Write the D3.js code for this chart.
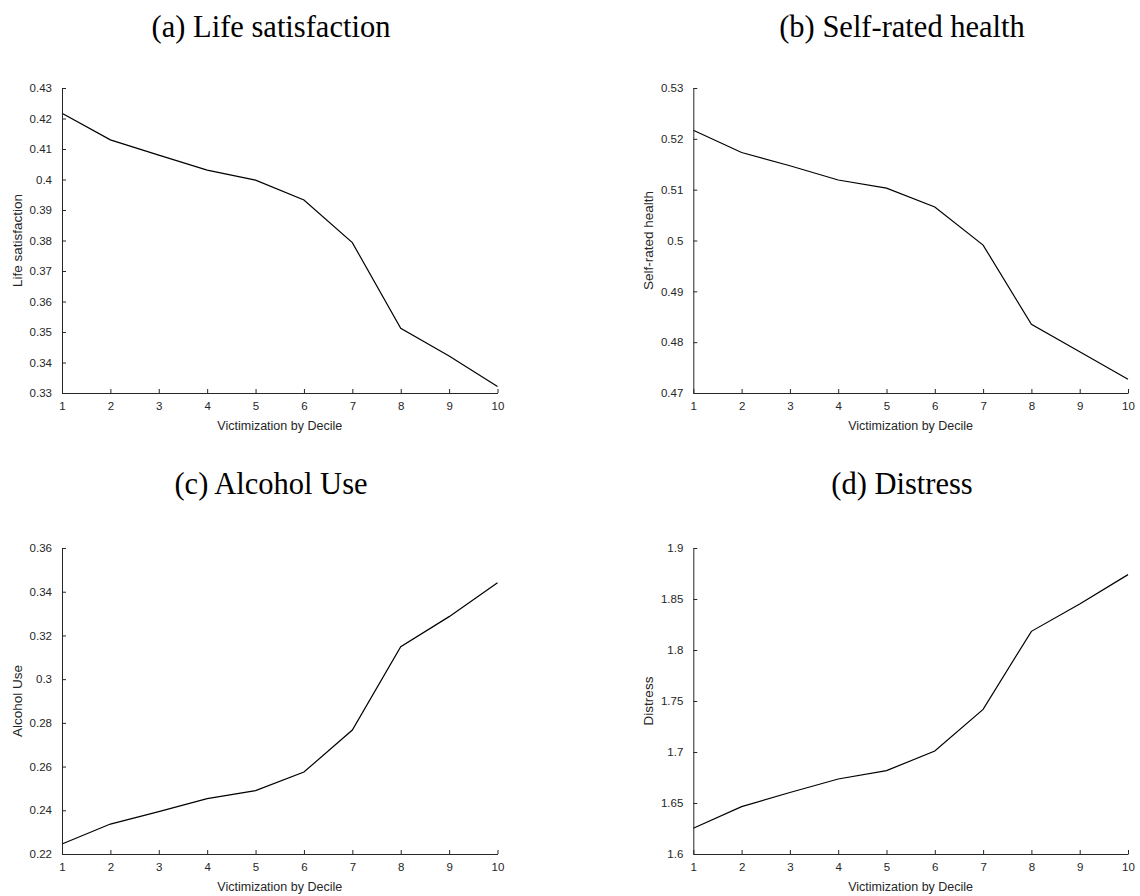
<!DOCTYPE html>
<html>
<head>
<meta charset="utf-8">
<script src="https://cdn.jsdelivr.net/npm/d3@7"></script>
<style>
  body { margin: 0; background: #fff; }
  svg { display: block; }
</style>
</head>
<body>
<svg id="chart" width="1140" height="896"></svg>
<script>
// values
const deciles = [1, 2, 3, 4, 5, 6, 7, 8, 9, 10]

const lifeSatisfaction = [0.4217, 0.4130, 0.4080, 0.4031, 0.3998, 0.3933, 0.3793, 0.3512, 0.3421, 0.3321]
const selfRatedHealth = [0.5217, 0.5173, 0.5147, 0.5119, 0.5103, 0.5066, 0.4991, 0.4835, 0.4781, 0.4727]
const alcoholUse = [0.2246, 0.2337, 0.2394, 0.2453, 0.2490, 0.2575, 0.2767, 0.3148, 0.3286, 0.3441]
const distress = [1.6252, 1.6464, 1.6603, 1.6735, 1.6817, 1.7010, 1.7418, 1.8183, 1.8450, 1.8739]

const titles = ['(a) Life satisfaction', '(b) Self-rated health', '(c) Alcohol Use', '(d) Distress']
const yLabels = ['Life satisfaction', 'Self-rated health', 'Alcohol Use', 'Distress']
const xLabel = 'Victimization by Decile'

const ticksA = [0.33, 0.34, 0.35, 0.36, 0.37, 0.38, 0.39, 0.40, 0.41, 0.42, 0.43]
const ticksB = [0.47, 0.48, 0.49, 0.50, 0.51, 0.52, 0.53]
const ticksC = [0.22, 0.24, 0.26, 0.28, 0.30, 0.32, 0.34, 0.36]
const ticksD = [1.60, 1.65, 1.70, 1.75, 1.80, 1.85, 1.90]

const series = [lifeSatisfaction, selfRatedHealth, alcoholUse, distress]
const yTicks = [ticksA, ticksB, ticksC, ticksD]

// panel boxes (left, right, top, bottom) and title centres
const boxes = [
    { x0: 62, x1: 497.5, y0: 88, y1: 393, tx: 271, ty: 37 },
    { x0: 693.3, x1: 1128, y0: 88, y1: 393, tx: 902, ty: 37 },
    { x0: 62, x1: 497.5, y0: 548, y1: 854, tx: 271, ty: 494 },
    { x0: 693.3, x1: 1128, y0: 548, y1: 854, tx: 902, ty: 494 }
]

const ink = '#262626'
const svg = d3.select('#chart')
const fmt = d => String(+d.toFixed(4))

boxes.forEach(function (b, i) {
    const vals = series[i]
    const ticks = yTicks[i]

    const x = d3.scaleLinear().domain([1, 10]).range([b.x0, b.x1])
    const y = d3.scaleLinear().domain(d3.extent(ticks)).range([b.y1, b.y0])

    const g = svg.append('g')

    svg.append('text')
        .attr('x', b.tx)
        .attr('y', b.ty)
        .attr('text-anchor', 'middle')
        .attr('font-family', '"Liberation Serif", "DejaVu Serif", serif')
        .attr('font-size', 30.5)
        .attr('fill', '#000')
        .text(titles[i])

    const line = d3.line()
        .x((d, k) => x(deciles[k]))
        .y(d => y(d))

    g.append('path')
        .datum(vals)
        .attr('d', line)
        .attr('fill', 'none')
        .attr('stroke', '#000')
        .attr('stroke-width', 1.2)

    const xAxis = g.append('g')
        .attr('transform', `translate(0,${b.y1})`)
        .call(d3.axisBottom(x).tickValues(deciles).tickFormat(d3.format('d'))
            .tickSizeInner(-4).tickSizeOuter(0).tickPadding(8.5))

    const yAxis = g.append('g')
        .attr('transform', `translate(${b.x0},0)`)
        .call(d3.axisLeft(y).tickValues(ticks).tickFormat(fmt)
            .tickSizeInner(-4).tickSizeOuter(0).tickPadding(10))

    ;[xAxis, yAxis].forEach(function (ax) {
        ax.select('.domain').attr('stroke', ink).attr('stroke-width', 1)
        ax.selectAll('.tick line').attr('stroke', ink)
        ax.selectAll('.tick text')
            .attr('fill', ink)
            .attr('font-family', '"Liberation Sans", Arial, sans-serif')
            .attr('font-size', 11.5)
    })

    g.append('text')
        .attr('x', (b.x0 + b.x1) / 2)
        .attr('y', b.y1 + 37)
        .attr('text-anchor', 'middle')
        .attr('font-family', '"Liberation Sans", Arial, sans-serif')
        .attr('font-size', 12.5)
        .attr('fill', ink)
        .text(xLabel)

    g.append('text')
        .attr('transform', `translate(${b.x0 - 40},${(b.y0 + b.y1) / 2}) rotate(-90)`)
        .attr('text-anchor', 'middle')
        .attr('font-family', '"Liberation Sans", Arial, sans-serif')
        .attr('font-size', 13.5)
        .attr('fill', ink)
        .text(yLabels[i])
})
</script>
</body>
</html>
